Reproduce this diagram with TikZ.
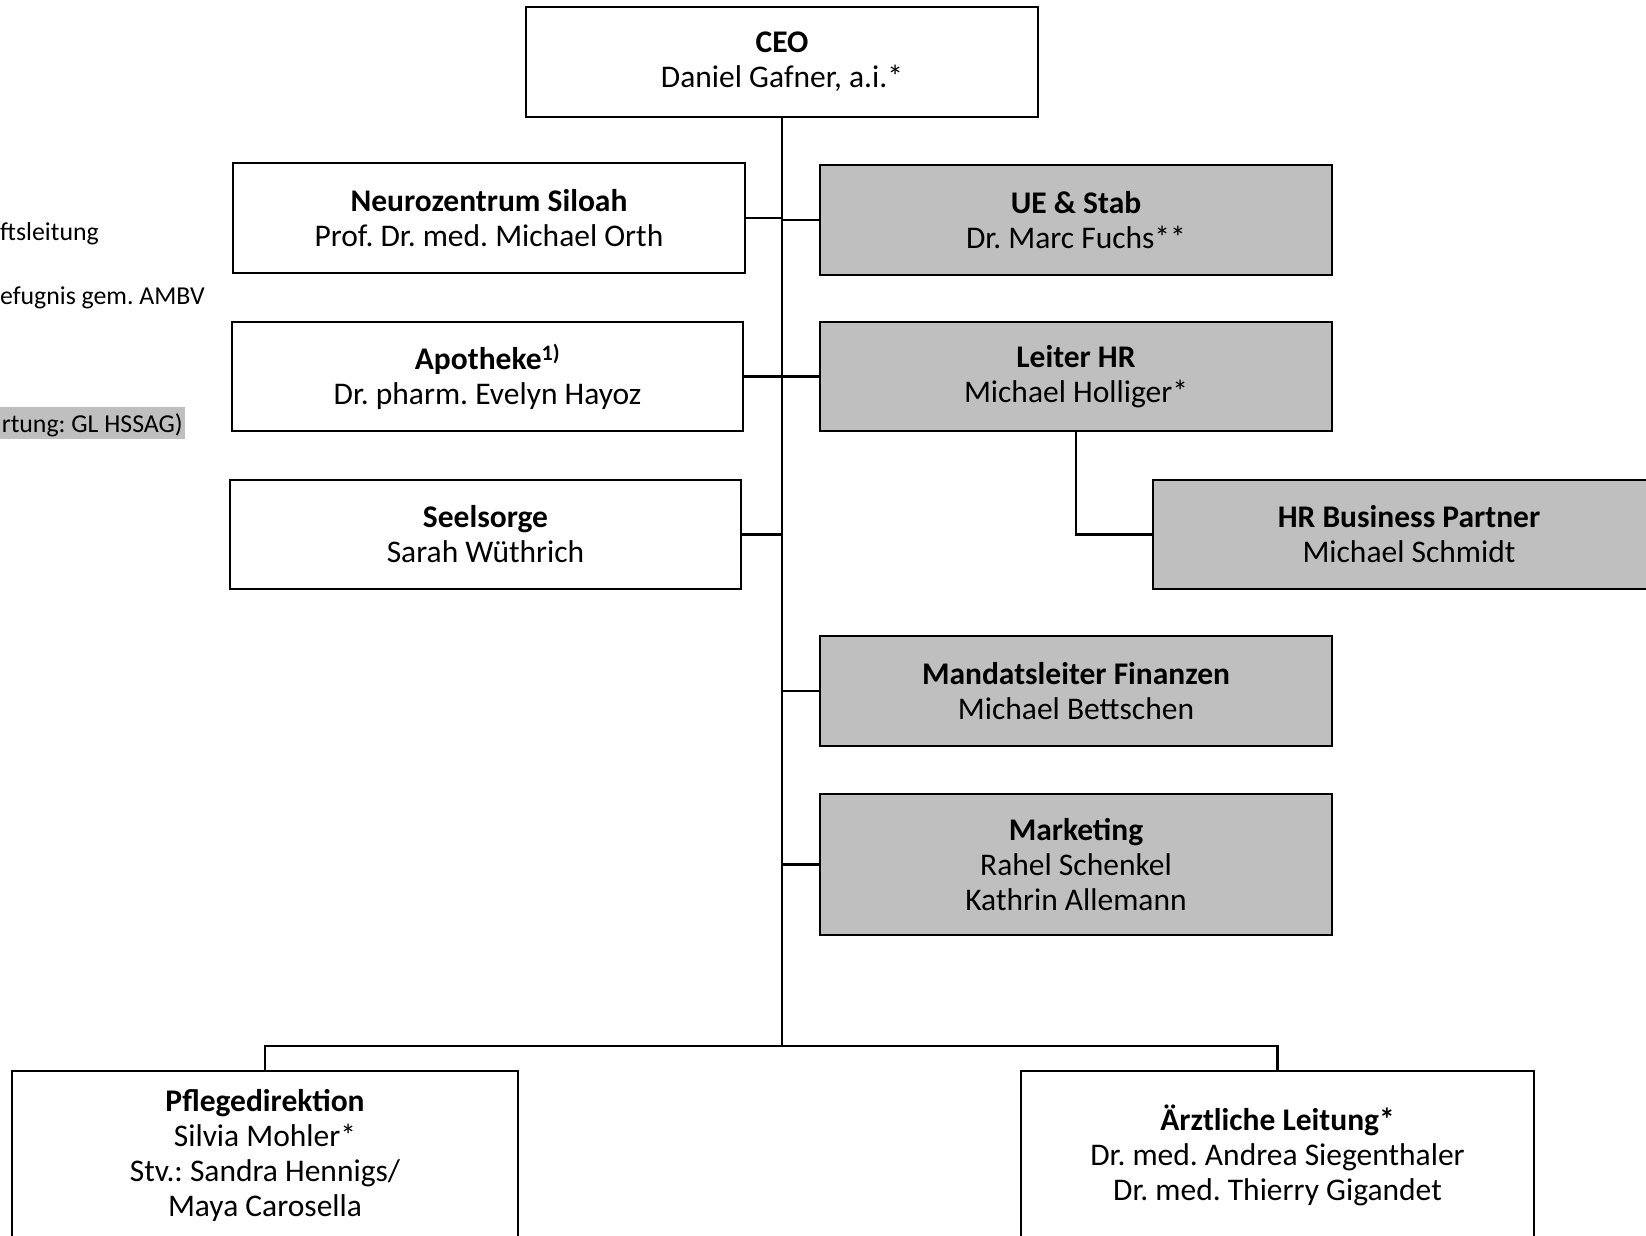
\documentclass[tikz,border=0pt]{standalone}
\usepackage{fontspec}
\setmainfont{Carlito}
\frenchspacing
\definecolor{boxgray}{HTML}{BFBFBF}
\tikzset{
  orgbox/.style={draw=black, line width=2.4pt, fill=white, inner sep=0pt, align=center,
    font=\fontsize{31.5}{35}\selectfont},
  graybox/.style={orgbox, fill=boxgray},
  conn/.style={draw=black, line width=2.4pt},
  legend/.style={inner sep=0pt, anchor=east, font=\fontsize{25.8}{29}\selectfont}
}
\begin{document}
\begin{tikzpicture}[x=1pt,y=1pt]
\useasboundingbox (0,0) rectangle (1646,-1235);
\clip (0,0) rectangle (1646,-1235);
% legend fragments
\fill[boxgray] (0,-407) rectangle (185,-439);
\node[legend] (l1) at (99,-234) {ftsleitung};
\node[legend] (l2) at (205,-298) {efugnis gem. AMBV};
\node[legend] (l3) at (183,-425) {rtung: GL HSSAG)};
% boxes
\node[orgbox, minimum width=512pt, minimum height=110pt] (ceo) at (782,-62) {\textbf{CEO}\\Daniel Gafner, a.i.*};
\node[orgbox, minimum width=512pt, minimum height=110pt] (neuro) at (489,-218) {\textbf{Neurozentrum Siloah}\\Prof. Dr. med. Michael Orth};
\node[graybox, minimum width=512pt, minimum height=110pt] (ue) at (1076,-220) {\textbf{UE \& Stab}\\Dr. Marc Fuchs**};
\node[orgbox, minimum width=511pt, minimum height=109pt] (apo) at (487.5,-376.5) {\textbf{Apotheke\textsuperscript{1)}}\\Dr. pharm. Evelyn Hayoz};
\node[graybox, minimum width=512pt, minimum height=109pt] (hr) at (1076,-376.5) {\textbf{Leiter HR}\\Michael Holliger*};
\node[orgbox, minimum width=511pt, minimum height=109pt] (seel) at (485.5,-534.5) {\textbf{Seelsorge}\\Sarah Wüthrich};
\node[graybox, minimum width=512pt, minimum height=109pt] (hrbp) at (1409,-534.5) {\textbf{HR Business Partner}\\Michael Schmidt};
\node[graybox, minimum width=512pt, minimum height=110pt] (mand) at (1076,-691) {\textbf{Mandatsleiter Finanzen}\\Michael Bettschen};
\node[graybox, minimum width=512pt, minimum height=141pt] (mark) at (1076,-864.5) {\textbf{Marketing}\\Rahel Schenkel\\Kathrin Allemann};
\node[orgbox, minimum width=506pt, minimum height=169pt] (pflege) at (265,-1155.5) {\textbf{Pflegedirektion}\\Silvia Mohler*\\Stv.: Sandra Hennigs/\\Maya Carosella};
\node[orgbox, minimum width=513pt, minimum height=169pt] (arzt) at (1277.5,-1155.5) {\textbf{Ärztliche Leitung*}\\Dr. med. Andrea Siegenthaler\\Dr. med. Thierry Gigandet};
% connectors
\coordinate (bus) at (782,-1046);
\draw[conn] (ceo.south) -- (bus);
\draw[conn] (neuro.east) -- (neuro.east -| ceo.south);
\draw[conn] (ue.west) -- (ue.west -| ceo.south);
\draw[conn] (apo.east) -- (apo.east -| ceo.south);
\draw[conn] (hr.west) -- (hr.west -| ceo.south);
\draw[conn] (seel.east) -- (seel.east -| ceo.south);
\draw[conn] (mand.west) -- (mand.west -| ceo.south);
\draw[conn] (mark.west) -- (mark.west -| ceo.south);
\draw[conn] (hr.south) |- (hrbp.west);
\draw[conn] (pflege.north) |- (bus) -| (arzt.north);
\end{tikzpicture}
\end{document}
